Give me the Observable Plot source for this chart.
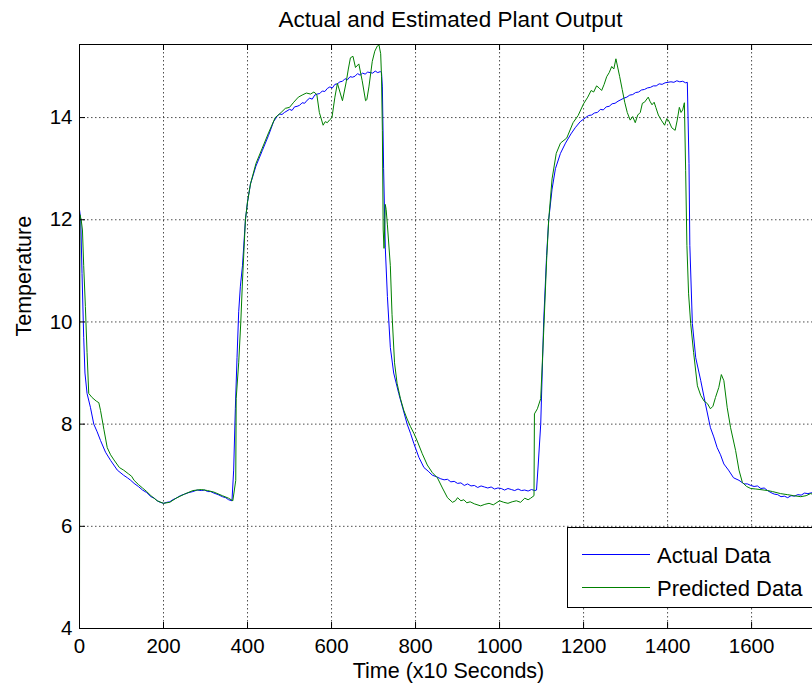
<!DOCTYPE html>
<html>
<head>
<meta charset="utf-8">
<script src="https://cdn.jsdelivr.net/npm/d3@7"></script>
<script src="https://cdn.jsdelivr.net/npm/@observablehq/plot@0.6"></script>
<style>
  html, body { margin: 0; padding: 0; background: #fff; overflow: hidden; }
  #wrap { position: relative; width: 812px; height: 693px; overflow: hidden; }
  #legend { position: absolute; left: 567px; top: 527px; }
</style>
</head>
<body>
<div id="wrap"></div>
<script>
const chartTitle = "Actual and Estimated Plant Output";
const xLabel = "Time (x10 Seconds)";
const yLabel = "Temperature";
const seriesNames = ["Actual Data", "Predicted Data"];
const xTicks = [0, 200, 400, 600, 800, 1000, 1200, 1400, 1600];
const yTicks = [4, 6, 8, 10, 12, 14];
const xDomain = [0, 1745];
const yDomain = [4, 15.43];

// [time, temperature]
const actualPoints = [
  [0,12.2],[3,12.0],[6,10.95],[10,9.7],[13,9.0],[18,8.6],[26,8.33],[34,8.0],[42,7.85],[50,7.68],
  [62,7.45],[74,7.29],[90,7.1],[105,7.0],[114,6.95],[122,6.9],[130,6.84],[140,6.78],[150,6.71],[160,6.66],
  [170,6.58],[178,6.55],[185,6.5],[192,6.47],[200,6.45],[208,6.47],[215,6.48],[222,6.52],[230,6.55],[240,6.6],
  [250,6.63],[260,6.66],[270,6.68],[280,6.71],[290,6.7],[298,6.71],[305,6.68],[312,6.68],[320,6.65],[330,6.62],
  [340,6.58],[348,6.56],[355,6.52],[363,6.5],[367,7.1],[371,8.3],[375,9.3],[379,10.2],[383,10.7],[388,11.1],
  [395,12.0],[400,12.35],[407,12.7],[420,13.05],[435,13.35],[450,13.65],[462,13.92],[470,14.02],[476,14.07],[482,14.06],
  [488,14.1],[494,14.13],[500,14.16],[506,14.14],[512,14.21],[518,14.22],[524,14.24],[530,14.29],[536,14.28],[542,14.34],
  [548,14.38],[554,14.36],[560,14.44],[566,14.46],[572,14.47],[578,14.52],[584,14.51],[590,14.57],[596,14.6],[602,14.58],
  [608,14.65],[614,14.66],[620,14.7],[626,14.71],[632,14.76],[638,14.74],[644,14.8],[650,14.79],[656,14.81],[662,14.86],
  [668,14.83],[674,14.87],[680,14.85],[686,14.89],[692,14.88],[698,14.87],[704,14.91],[710,14.88],[716,14.9],[719,14.88],
  [721,14.6],[724,13.0],[728,11.45],[733,10.5],[740,9.5],[748,9.0],[760,8.6],[770,8.3],[780,8.0],[788,7.82],
  [796,7.62],[808,7.35],[820,7.15],[830,7.08],[840,7.0],[850,6.97],[860,6.93],[868,6.91],[876,6.92],[884,6.87],
  [892,6.88],[900,6.84],[908,6.85],[916,6.8],[924,6.83],[932,6.79],[940,6.8],[948,6.76],[956,6.79],[964,6.77],
  [972,6.75],[980,6.77],[988,6.73],[996,6.75],[1004,6.74],[1012,6.71],[1020,6.74],[1028,6.72],[1036,6.7],[1044,6.73],
  [1052,6.7],[1060,6.71],[1068,6.69],[1076,6.72],[1084,6.7],[1088,6.71],[1092,7.2],[1098,8.0],[1105,10.0],[1112,11.3],
  [1117,12.0],[1125,12.6],[1133,13.0],[1145,13.3],[1157,13.5],[1170,13.68],[1180,13.8],[1192,13.92],[1205,14.0],[1212,14.04],
  [1219,14.05],[1226,14.09],[1233,14.1],[1240,14.16],[1247,14.15],[1254,14.21],[1261,14.22],[1268,14.27],[1275,14.28],[1282,14.32],
  [1289,14.35],[1296,14.38],[1303,14.4],[1310,14.44],[1317,14.45],[1324,14.49],[1331,14.5],[1338,14.54],[1345,14.55],[1352,14.58],
  [1359,14.59],[1366,14.62],[1373,14.62],[1380,14.66],[1387,14.65],[1394,14.68],[1401,14.69],[1408,14.7],[1415,14.69],[1422,14.72],
  [1429,14.7],[1436,14.71],[1443,14.68],[1447,14.69],[1451,13.1],[1453,11.5],[1459,9.97],[1467,9.3],[1479,8.85],[1490,8.4],
  [1502,7.93],[1510,7.75],[1518,7.54],[1526,7.4],[1534,7.22],[1545,7.1],[1557,6.95],[1570,6.9],[1582,6.83],[1590,6.83],
  [1598,6.8],[1606,6.78],[1614,6.79],[1622,6.74],[1630,6.75],[1638,6.7],[1646,6.66],[1654,6.63],[1662,6.62],[1670,6.58],
  [1678,6.59],[1686,6.56],[1694,6.6],[1702,6.59],[1710,6.62],[1718,6.61],[1726,6.65],[1734,6.64],[1745,6.66]
];

const predictedPoints = [
  [0,4.0],[1,12.1],[4,12.0],[7,11.8],[10,11.1],[14,10.3],[18,9.4],[22,8.6],[30,8.52],[40,8.45],
  [46,8.42],[50,8.27],[58,7.9],[66,7.54],[74,7.4],[82,7.3],[95,7.15],[105,7.1],[116,7.03],[124,6.98],
  [130,6.9],[140,6.82],[150,6.75],[160,6.68],[170,6.6],[185,6.5],[200,6.45],[215,6.47],[230,6.55],[250,6.63],
  [270,6.7],[290,6.72],[305,6.7],[320,6.67],[340,6.6],[355,6.55],[365,6.5],[372,6.9],[373,8.5],[379,9.2],
  [384,10.0],[388,10.8],[395,12.0],[400,12.35],[407,12.7],[420,13.1],[435,13.4],[450,13.7],[466,14.0],[480,14.1],
  [490,14.18],[500,14.2],[510,14.3],[521,14.4],[530,14.44],[540,14.48],[550,14.46],[558,14.5],[565,14.45],[571,14.1],
  [580,13.85],[585,13.92],[590,13.9],[596,13.96],[601,14.0],[608,14.4],[614,14.67],[620,14.5],[626,14.33],[635,14.7],
  [640,14.95],[645,15.17],[651,15.2],[657,14.98],[665,15.05],[673,14.72],[681,14.33],[684,14.35],[689,14.6],[697,15.1],
  [703,15.3],[709,15.4],[713,15.42],[717,15.25],[719,14.8],[721,13.75],[723,11.8],[725,11.44],[727,12.0],[728,12.3],
  [730,12.2],[733,11.9],[740,11.1],[744,10.15],[750,9.2],[756,8.8],[764,8.5],[772,8.27],[780,8.1],[788,7.95],
  [796,7.82],[804,7.67],[816,7.42],[828,7.2],[840,7.05],[852,6.95],[864,6.75],[876,6.56],[888,6.47],[895,6.5],
  [900,6.56],[908,6.5],[915,6.52],[922,6.46],[930,6.48],[940,6.44],[955,6.4],[965,6.43],[975,6.45],[985,6.42],
  [1000,6.5],[1010,6.47],[1020,6.45],[1030,6.48],[1040,6.5],[1050,6.47],[1060,6.55],[1068,6.52],[1074,6.55],[1082,6.6],
  [1083,8.2],[1090,8.3],[1098,8.5],[1105,9.8],[1112,11.2],[1117,12.0],[1125,12.8],[1135,13.3],[1145,13.5],[1160,13.6],
  [1175,13.9],[1187,14.04],[1200,14.27],[1210,14.4],[1218,14.53],[1224,14.5],[1231,14.62],[1237,14.58],[1243,14.53],[1249,14.65],
  [1255,14.8],[1261,14.88],[1267,15.0],[1272,14.95],[1277,15.15],[1286,14.8],[1292,14.55],[1298,14.3],[1304,14.1],[1311,13.95],
  [1317,14.02],[1323,13.9],[1329,14.05],[1335,14.1],[1340,14.28],[1345,14.3],[1354,14.4],[1358,14.32],[1363,14.25],[1368,14.3],
  [1372,14.2],[1378,14.05],[1385,13.95],[1393,13.85],[1398,13.98],[1402,13.95],[1410,13.8],[1418,13.75],[1423,13.95],[1428,14.2],
  [1432,14.1],[1436,14.15],[1440,14.29],[1443,12.96],[1446,11.5],[1450,10.55],[1455,9.97],[1462,9.4],[1471,8.75],[1479,8.56],
  [1487,8.45],[1495,8.4],[1502,8.3],[1508,8.35],[1514,8.52],[1522,8.72],[1528,8.97],[1534,8.85],[1542,8.32],[1550,7.93],
  [1562,7.48],[1570,7.1],[1578,6.86],[1588,6.78],[1598,6.74],[1610,6.73],[1620,6.72],[1638,6.7],[1650,6.68],[1669,6.64],
  [1685,6.62],[1700,6.6],[1717,6.58],[1730,6.6],[1740,6.64],[1745,6.63]
];

const actual = actualPoints.map(([t, v]) => ({t, v}));
const predicted = predictedPoints.map(([t, v]) => ({t, v}));

const W = 812, H = 693;
const mL = 79, mR = 0, mT = 44, mB = 65;
const plotW = W - mL - mR, plotH = H - mT - mB;
const tick = 6;
const font = "'Liberation Sans', Arial, Helvetica, sans-serif";
const fmt = d => String(d);

const chart = Plot.plot({
  width: W, height: H,
  marginLeft: mL, marginRight: mR, marginTop: mT, marginBottom: mB,
  x: {domain: xDomain},
  y: {domain: yDomain},
  style: {fontFamily: font, fontSize: "20.5px", color: "#000", background: "#fff", overflow: "visible"},
  marks: [
    Plot.gridX(xTicks.slice(1), {stroke: "#222", strokeOpacity: 0.8, strokeWidth: 1, strokeDasharray: "1.5,2.5"}),
    Plot.gridY(yTicks.slice(1), {stroke: "#222", strokeOpacity: 0.8, strokeWidth: 1, strokeDasharray: "1.5,2.5"}),
    Plot.line(actual, {x: "t", y: "v", stroke: "#0000ff", strokeWidth: 1, clip: true}),
    Plot.line(predicted, {x: "t", y: "v", stroke: "#008000", strokeWidth: 1, clip: true}),
    Plot.ruleX(xTicks, {stroke: "#000", insetTop: plotH - tick}),
    Plot.ruleX(xTicks, {stroke: "#000", insetBottom: plotH - tick}),
    Plot.ruleY(yTicks, {stroke: "#000", insetRight: plotW - tick}),
    Plot.ruleX([xDomain[0]], {stroke: "#000"}),
    Plot.ruleY([yDomain[0], yDomain[1]], {stroke: "#000"}),
    Plot.axisX(xTicks, {anchor: "bottom", tickSize: 0, tickPadding: 10, label: null, tickFormat: fmt, fontSize: 20.5}),
    Plot.axisY(yTicks, {anchor: "left", tickSize: 0, tickPadding: 7, label: null, tickFormat: fmt, fontSize: 20.5}),
    Plot.text([chartTitle], {frameAnchor: "top", dy: -24.5, dx: 4.5, fontSize: 22.5, lineAnchor: "middle", fill: "#000"}),
    Plot.text([xLabel], {frameAnchor: "bottom", dy: 43, dx: 2.5, fontSize: 21.5, lineAnchor: "middle", fill: "#000"}),
    Plot.text([yLabel], {frameAnchor: "left", dx: -55.5, rotate: -90, fontSize: 21.5, lineAnchor: "middle", fill: "#000"})
  ]
});

const wrap = document.getElementById("wrap");
wrap.appendChild(chart);

// Legend box in the lower right of the axes
const colors = ["#0000ff", "#008000"];
const ns = "http://www.w3.org/2000/svg";
const leg = document.createElementNS(ns, "svg");
leg.setAttribute("id", "legend");
leg.setAttribute("width", 260);
leg.setAttribute("height", 81);
const box = document.createElementNS(ns, "rect");
box.setAttribute("x", 0.5); box.setAttribute("y", 0.5);
box.setAttribute("width", 300); box.setAttribute("height", 80);
box.setAttribute("fill", "#fff"); box.setAttribute("stroke", "#000");
leg.appendChild(box);
seriesNames.forEach((name, i) => {
  const yy = 27.5 + i * 33;
  const ln = document.createElementNS(ns, "line");
  ln.setAttribute("x1", 15); ln.setAttribute("x2", 83);
  ln.setAttribute("y1", yy); ln.setAttribute("y2", yy);
  ln.setAttribute("stroke", colors[i]); ln.setAttribute("stroke-width", 1);
  leg.appendChild(ln);
  const tx = document.createElementNS(ns, "text");
  tx.setAttribute("x", 90); tx.setAttribute("y", yy + 8);
  tx.setAttribute("font-family", font); tx.setAttribute("font-size", 22);
  tx.setAttribute("fill", "#000");
  tx.textContent = name;
  leg.appendChild(tx);
});
wrap.appendChild(leg);
</script>
</body>
</html>
